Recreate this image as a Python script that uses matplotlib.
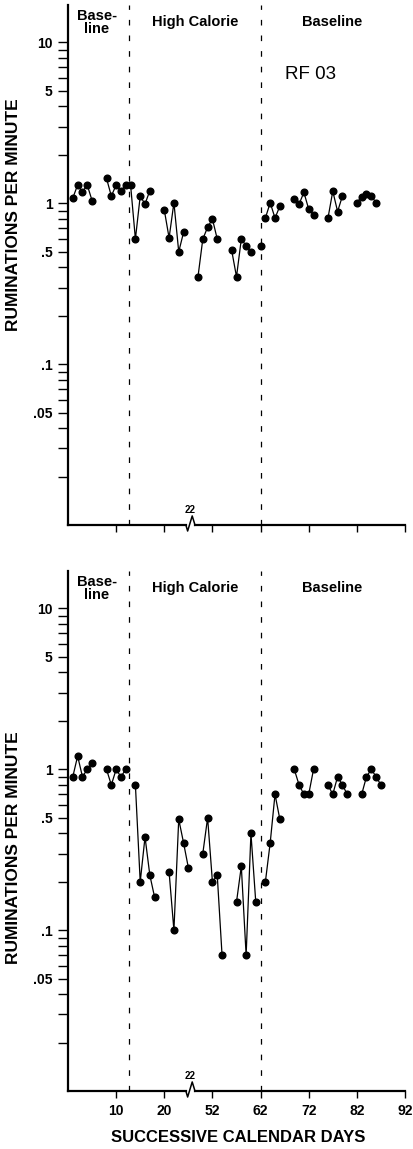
import numpy as np
import matplotlib
matplotlib.use("Agg")
from matplotlib import pyplot as plt
from matplotlib.ticker import FixedLocator, NullFormatter

plt.rcParams["font.family"] = ["Liberation Sans", "DejaVu Sans"]
plt.rcParams["font.weight"] = "bold"

# calendar days are plotted on a compressed axis: 22 days are skipped after day 25
GAP_START = 25
GAP_DAYS = 22

x_tick_days = [10, 20, 52, 62, 72, 82, 92]
y_major = [0.05, 0.1, 0.5, 1, 5, 10]
y_major_labels = [".05", ".1", ".5", "1", "5", "10"]
phase_edges = [12.6, 62.15]
phase_names = ["Base-\nline", "High Calorie", "Baseline"]
phase_label_days = [6.0, 48.4, 76.8]

# RF 03 (top panel)
top_days = [1, 2, 3, 4, 5,
            8, 9, 10, 11, 12, 13, 14, 15, 16, 17,
            20, 21, 22, 23, 24,
            49, 50, 51, 52, 53,
            56, 57, 58, 59, 60,
            62,
            63, 64, 65, 66,
            69, 70, 71, 72, 73,
            76, 77, 78, 79,
            82, 83, 84, 85, 86]
top_rate = [1.08, 1.30, 1.18, 1.30, 1.04,
            1.43, 1.11, 1.30, 1.20, 1.30, 1.30, 0.60, 1.11, 0.99, 1.20,
            0.91, 0.61, 1.01, 0.50, 0.66,
            0.35, 0.60, 0.71, 0.80, 0.60,
            0.51, 0.35, 0.60, 0.545, 0.50,
            0.54,
            0.81, 1.01, 0.81, 0.96,
            1.07, 0.99, 1.17, 0.92, 0.85,
            0.81, 1.19, 0.89, 1.11,
            1.01, 1.10, 1.15, 1.11, 1.01]
top_breaks = [62]

# second subject (bottom panel)
bot_days = [1, 2, 3, 4, 5,
            8, 9, 10, 11, 12,
            14, 15, 16, 17, 18,
            21, 22, 23, 24, 25,
            50, 51, 52, 53, 54,
            57, 58, 59, 60, 61,
            63, 64, 65, 66,
            69, 70, 71, 72, 73,
            76, 77, 78, 79, 80,
            83, 84, 85, 86, 87]
bot_rate = [0.90, 1.21, 0.90, 1.00, 1.09,
            1.00, 0.80, 1.00, 0.90, 1.00,
            0.80, 0.20, 0.38, 0.22, 0.16,
            0.23, 0.10, 0.49, 0.35, 0.245,
            0.30, 0.50, 0.20, 0.22, 0.07,
            0.15, 0.25, 0.07, 0.40, 0.15,
            0.20, 0.35, 0.70, 0.49,
            1.00, 0.80, 0.70, 0.70, 1.00,
            0.80, 0.70, 0.90, 0.80, 0.70,
            0.70, 0.90, 1.00, 0.90, 0.80]
bot_breaks = []


def to_pos(day):
    day = np.asarray(day, dtype=float)
    return np.where(day > GAP_START, day - GAP_DAYS, day)


def split_runs(days, vals, breaks_after):
    runs, start = [], 0
    for i in range(1, len(days)):
        if days[i] - days[i - 1] > 1 or days[i - 1] in breaks_after:
            runs.append((days[start:i], vals[start:i]))
            start = i
    runs.append((days[start:], vals[start:]))
    return runs


W, H = 413, 1149
fig = plt.figure(figsize=(W / 100, H / 100), dpi=100)
ax1 = fig.add_axes([68 / W, (H - 525.3) / H, 337 / W, 520 / H])
ax2 = fig.add_axes([68 / W, (H - 1091.3) / H, 337 / W, 520 / H])

minor_y = [m * 10.0 ** e for e in (-2, -1, 0, 1) for m in range(2, 10)]
minor_y = [v for v in minor_y if v < 16 and round(v, 6) not in y_major]

# vertical centre of the y label, in axes fraction, per panel
ylabel_y = [0.597, 0.468]

panels = [(ax1, top_days, top_rate, top_breaks), (ax2, bot_days, bot_rate, bot_breaks)]
for (ax, days, rate, brk), ly in zip(panels, ylabel_y):
    for d, v in split_runs(days, rate, brk):
        ax.plot(to_pos(d), v, color="black", lw=0.9, marker="o", ms=4.8,
                mfc="black", mec="black", clip_on=False)
    for e in phase_edges:
        ax.axvline(to_pos(e), color="black", lw=0.9, dashes=(4.5, 8))

    ax.set_yscale("log")
    ax.set_ylim(0.01, 17)
    ax.set_xlim(0, 70)
    ax.yaxis.set_major_locator(FixedLocator(y_major))
    ax.set_yticklabels(y_major_labels)
    ax.yaxis.set_minor_locator(FixedLocator(minor_y))
    ax.yaxis.set_minor_formatter(NullFormatter())
    ax.set_xticks(to_pos(x_tick_days))
    ax.tick_params(axis="y", which="both", direction="out", length=7, width=1,
                   pad=4, labelsize=10)
    ax.tick_params(axis="x", direction="out", length=5, width=1, pad=4, labelsize=10)
    for s in ("top", "right", "bottom"):
        ax.spines[s].set_visible(False)
    ax.spines["left"].set_linewidth(1.6)

    # broken x axis line with the little break mark
    xt = ax.get_xaxis_transform()
    ax.plot([0, 24.5], [0, 0], color="black", lw=1.6, transform=xt, clip_on=False)
    ax.plot([24.5, 24.85, 25.8, 26.4], [0, -0.011, 0.018, 0], color="black",
            lw=1.1, transform=xt, clip_on=False)
    ax.plot([26.4, 70], [0, 0], color="black", lw=1.6, transform=xt, clip_on=False)
    ax.text(25.4, 0.019, "22", transform=xt, ha="center", va="bottom", fontsize=7,
            fontweight="bold")

    for name, d in zip(phase_names, phase_label_days):
        ax.text(to_pos(d), 1 - 17 / 520, name, transform=xt, ha="center", va="center",
                fontsize=10.5, fontweight="bold", linespacing=0.95)

    ax.set_ylabel("RUMINATIONS PER MINUTE", fontsize=12.5, fontweight="bold")
    ax.yaxis.set_label_coords(-0.139, ly)

ax1.set_xticklabels([])
ax2.set_xticklabels([str(d) for d in x_tick_days])
ax1.text(to_pos(72.3), 0.866, "RF 03", transform=ax1.get_xaxis_transform(),
         ha="center", va="center", fontsize=13.5, fontweight="normal")

fig.text(238 / W, (H - 1138) / H, "SUCCESSIVE CALENDAR DAYS", ha="center", va="center",
         fontsize=12, fontweight="bold")

fig.savefig("out.png", dpi=100)
